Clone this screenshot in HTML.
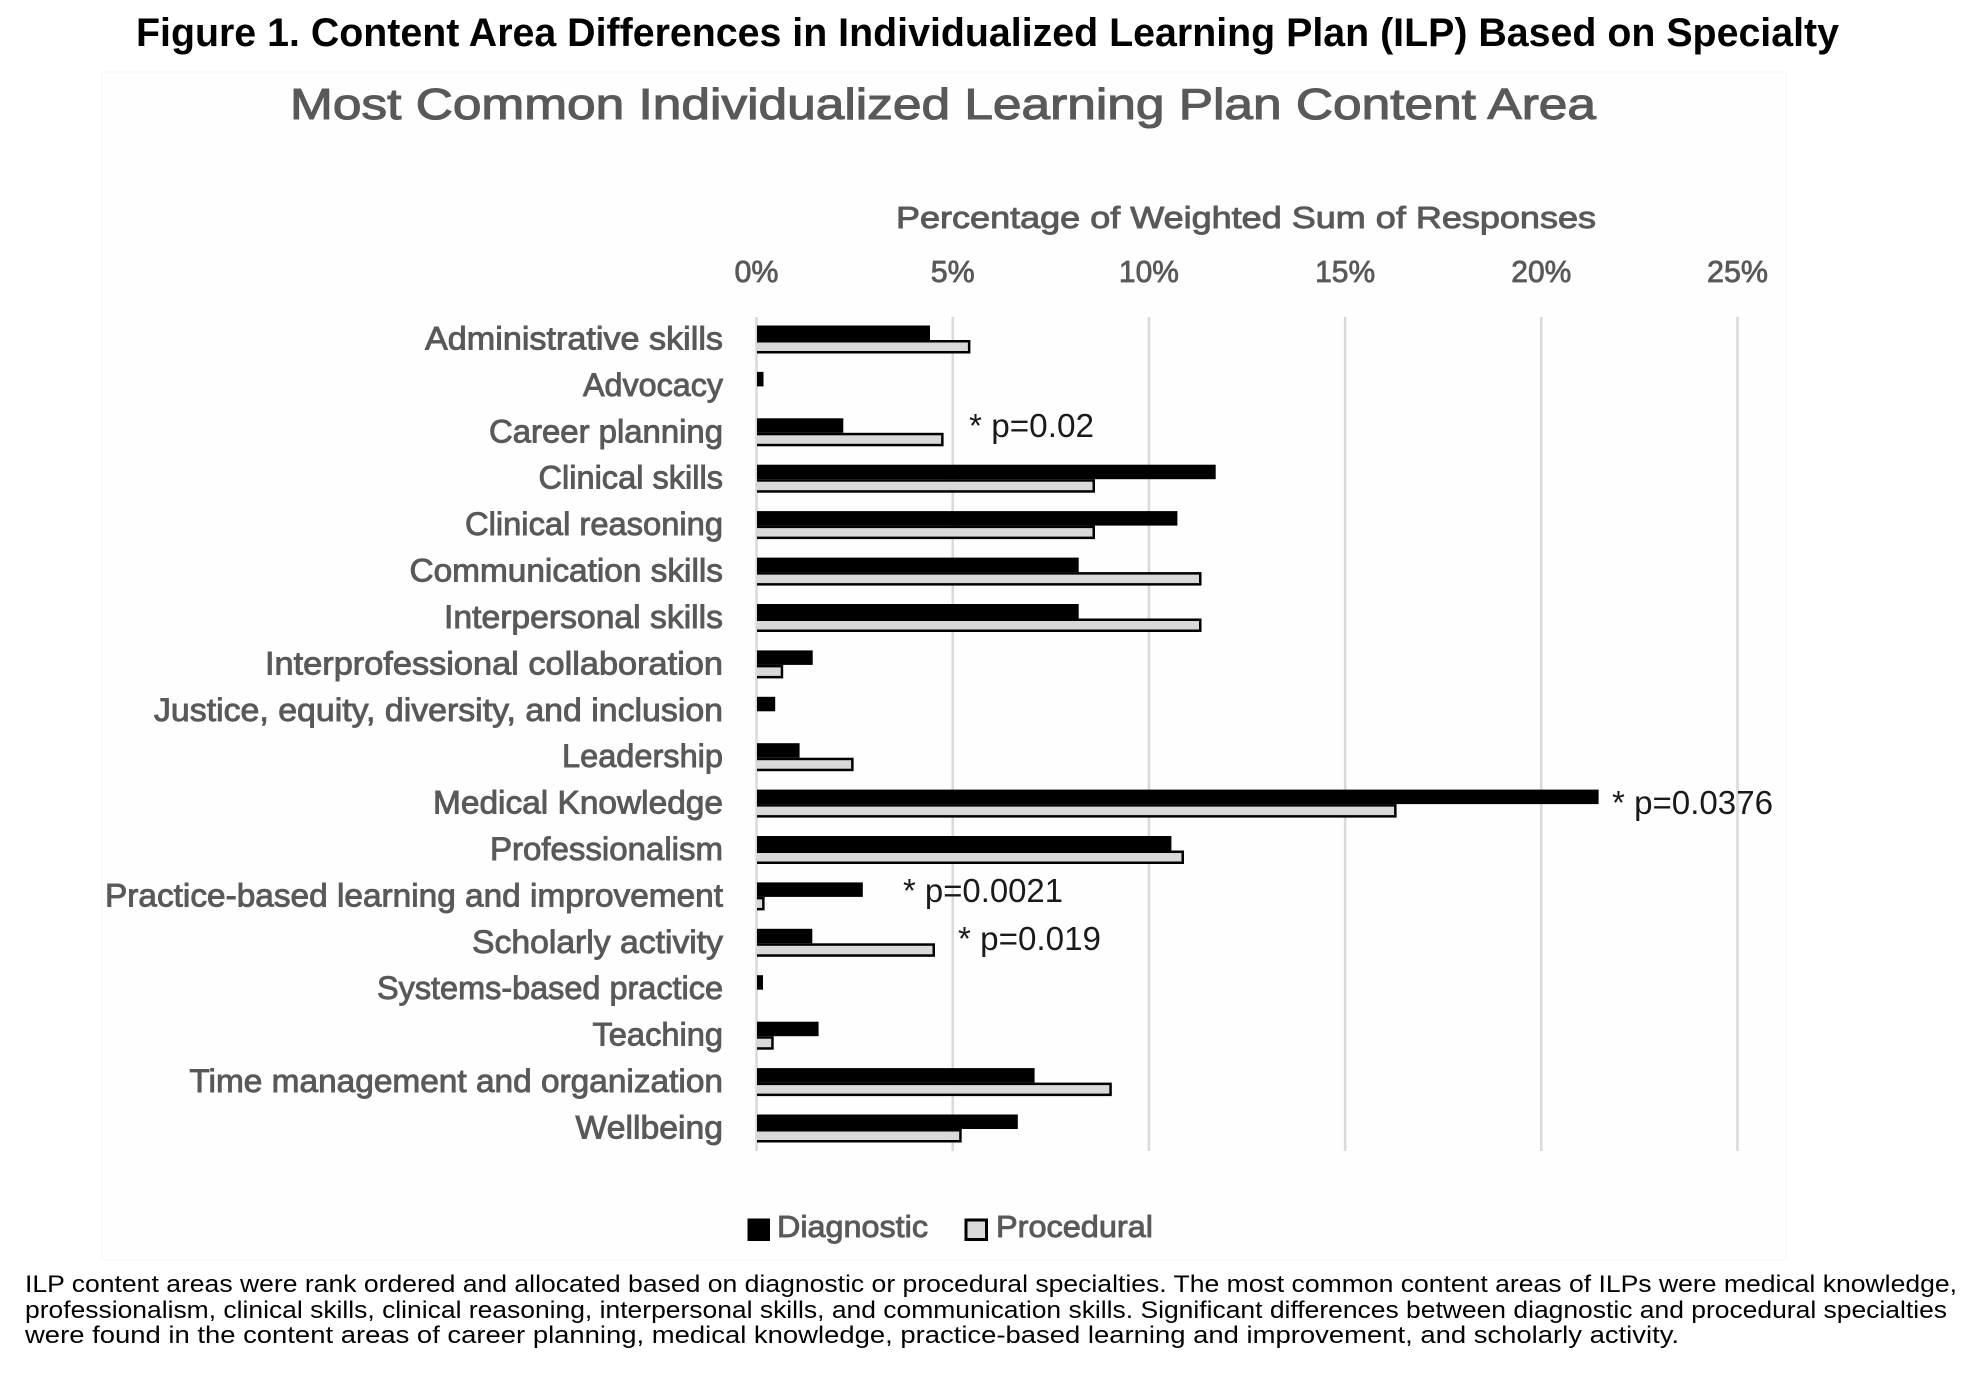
<!DOCTYPE html>
<html>
<head>
<meta charset="utf-8">
<style>
  html, body { margin:0; padding:0; background:#ffffff; }
  svg { display:block; }
  .ttl { font-family:"Liberation Sans", Arial, sans-serif; font-weight:bold; font-size:40px; fill:#000; }
  .ct  { font-family:"Liberation Sans", Arial, sans-serif; font-size:44px; fill:#595959; stroke:#595959; stroke-width:1.1; }
  .ax  { font-family:"Liberation Sans", Arial, sans-serif; font-size:31px; fill:#595959; stroke:#595959; stroke-width:0.9; }
  .tk  { font-family:"Liberation Sans", Arial, sans-serif; font-size:31px; fill:#595959; stroke:#595959; stroke-width:0.8; }
  .lb  { font-family:"Liberation Sans", Arial, sans-serif; font-size:32px; fill:#595959; stroke:#595959; stroke-width:0.9; }
  .an  { font-family:"Liberation Sans", Arial, sans-serif; font-size:33px; fill:#1a1a1a; }
  .lg  { font-family:"Liberation Sans", Arial, sans-serif; font-size:31px; fill:#595959; stroke:#595959; stroke-width:0.9; }
  .cap { font-family:"Liberation Sans", Arial, sans-serif; font-size:24px; fill:#000; }
</style>
</head>
<body>
<svg width="1961" height="1390" viewBox="0 0 1961 1390" xmlns="http://www.w3.org/2000/svg">
  <rect x="0" y="0" width="1961" height="1390" fill="#ffffff"/>
  <!-- faint chart panel -->
  <rect x="102" y="72" width="1684" height="1188" fill="#fefefe" stroke="#f9f9f9" stroke-width="1.5"/>

  <!-- Figure title -->
  <text class="ttl" x="136" y="46" textLength="1703" lengthAdjust="spacingAndGlyphs">Figure 1. Content Area Differences in Individualized Learning Plan (ILP) Based on Specialty</text>

  <!-- Chart title -->
  <text class="ct" x="290" y="119" textLength="1306" lengthAdjust="spacingAndGlyphs">Most Common Individualized Learning Plan Content Area</text>

  <!-- Axis title -->
  <text class="ax" x="896" y="228" textLength="700" lengthAdjust="spacingAndGlyphs">Percentage of Weighted Sum of Responses</text>

  <!-- Tick labels -->
  <g class="tk" text-anchor="middle">
    <text x="756.5" y="282" textLength="44" lengthAdjust="spacingAndGlyphs">0%</text>
    <text x="952.7" y="282" textLength="44" lengthAdjust="spacingAndGlyphs">5%</text>
    <text x="1148.9" y="282" textLength="60" lengthAdjust="spacingAndGlyphs">10%</text>
    <text x="1345.1" y="282" textLength="60" lengthAdjust="spacingAndGlyphs">15%</text>
    <text x="1541.3" y="282" textLength="60" lengthAdjust="spacingAndGlyphs">20%</text>
    <text x="1737.5" y="282" textLength="61" lengthAdjust="spacingAndGlyphs">25%</text>
  </g>

  <!-- Gridlines -->
  <g stroke="#d9d9d9" stroke-width="2.5">
    <line x1="756.5" y1="317" x2="756.5" y2="1151"/>
    <line x1="952.7" y1="317" x2="952.7" y2="1151"/>
    <line x1="1148.9" y1="317" x2="1148.9" y2="1151"/>
    <line x1="1345.1" y1="317" x2="1345.1" y2="1151"/>
    <line x1="1541.3" y1="317" x2="1541.3" y2="1151"/>
    <line x1="1737.5" y1="317" x2="1737.5" y2="1151"/>
  </g>

  <!-- Category labels -->
  <g class="lb" text-anchor="end">
    <text x="723" y="349.5" textLength="298" lengthAdjust="spacingAndGlyphs">Administrative skills</text>
    <text x="723" y="395.9" textLength="140" lengthAdjust="spacingAndGlyphs">Advocacy</text>
    <text x="723" y="442.3" textLength="234" lengthAdjust="spacingAndGlyphs">Career planning</text>
    <text x="723" y="488.7" textLength="184.5" lengthAdjust="spacingAndGlyphs">Clinical skills</text>
    <text x="723" y="535.1" textLength="258" lengthAdjust="spacingAndGlyphs">Clinical reasoning</text>
    <text x="723" y="581.6" textLength="313.5" lengthAdjust="spacingAndGlyphs">Communication skills</text>
    <text x="723" y="628" textLength="279" lengthAdjust="spacingAndGlyphs">Interpersonal skills</text>
    <text x="723" y="674.4" textLength="458" lengthAdjust="spacingAndGlyphs">Interprofessional collaboration</text>
    <text x="723" y="720.8" textLength="569" lengthAdjust="spacingAndGlyphs">Justice, equity, diversity, and inclusion</text>
    <text x="723" y="767.2" textLength="161" lengthAdjust="spacingAndGlyphs">Leadership</text>
    <text x="723" y="813.6" textLength="290" lengthAdjust="spacingAndGlyphs">Medical Knowledge</text>
    <text x="723" y="860" textLength="233" lengthAdjust="spacingAndGlyphs">Professionalism</text>
    <text x="723" y="906.4" textLength="618" lengthAdjust="spacingAndGlyphs">Practice-based learning and improvement</text>
    <text x="723" y="952.8" textLength="251" lengthAdjust="spacingAndGlyphs">Scholarly activity</text>
    <text x="723" y="999.2" textLength="346" lengthAdjust="spacingAndGlyphs">Systems-based practice</text>
    <text x="723" y="1045.7" textLength="130.5" lengthAdjust="spacingAndGlyphs">Teaching</text>
    <text x="723" y="1092.1" textLength="533.6" lengthAdjust="spacingAndGlyphs">Time management and organization</text>
    <text x="723" y="1138.5" textLength="147.5" lengthAdjust="spacingAndGlyphs">Wellbeing</text>
  </g>

  <!-- Diagnostic bars (black) -->
  <g fill="#000">
    <rect x="757" y="325.5" width="173" height="14.5"/>
    <rect x="757" y="371.9" width="6.5" height="14.5"/>
    <rect x="757" y="418.3" width="86.3" height="14.5"/>
    <rect x="757" y="464.7" width="458.7" height="14.5"/>
    <rect x="757" y="511.1" width="420.4" height="14.5"/>
    <rect x="757" y="557.6" width="321.7" height="14.5"/>
    <rect x="757" y="604" width="321.7" height="14.5"/>
    <rect x="757" y="650.4" width="55.7" height="14.5"/>
    <rect x="757" y="696.8" width="18.2" height="14.5"/>
    <rect x="757" y="743.2" width="42.6" height="14.5"/>
    <rect x="757" y="789.6" width="841.6" height="14.5"/>
    <rect x="757" y="836" width="414.4" height="14.5"/>
    <rect x="757" y="882.4" width="105.8" height="14.5"/>
    <rect x="757" y="928.8" width="55.3" height="14.5"/>
    <rect x="757" y="975.2" width="6" height="14.5"/>
    <rect x="757" y="1021.7" width="61.6" height="14.5"/>
    <rect x="757" y="1068.1" width="277.6" height="14.5"/>
    <rect x="757" y="1114.5" width="260.8" height="14.5"/>
  </g>

  <!-- Procedural bars (outer black outline) -->
  <g fill="#000">
    <rect x="757" y="340" width="213.4" height="13.5"/>
    <rect x="757" y="432.8" width="186.6" height="13.5"/>
    <rect x="757" y="479.2" width="338" height="13.5"/>
    <rect x="757" y="525.6" width="338" height="13.5"/>
    <rect x="757" y="572.1" width="444.5" height="13.5"/>
    <rect x="757" y="618.5" width="444.5" height="13.5"/>
    <rect x="757" y="664.9" width="26.2" height="13.5"/>
    <rect x="757" y="757.7" width="96.6" height="13.5"/>
    <rect x="757" y="804.1" width="639.6" height="13.5"/>
    <rect x="757" y="850.5" width="427" height="13.5"/>
    <rect x="757" y="896.9" width="7.6" height="13.5"/>
    <rect x="757" y="943.3" width="178" height="13.5"/>
    <rect x="757" y="1036.2" width="16.7" height="13.5"/>
    <rect x="757" y="1082.6" width="354.8" height="13.5"/>
    <rect x="757" y="1129" width="204.7" height="13.5"/>
  </g>
  <!-- Procedural bars (gray fill) -->
  <g fill="#d9d9d9">
    <rect x="757" y="342.5" width="210.9" height="8.5"/>
    <rect x="757" y="435.3" width="184.1" height="8.5"/>
    <rect x="757" y="481.7" width="335.5" height="8.5"/>
    <rect x="757" y="528.1" width="335.5" height="8.5"/>
    <rect x="757" y="574.6" width="442" height="8.5"/>
    <rect x="757" y="621" width="442" height="8.5"/>
    <rect x="757" y="667.4" width="23.7" height="8.5"/>
    <rect x="757" y="760.2" width="94.1" height="8.5"/>
    <rect x="757" y="806.6" width="637.1" height="8.5"/>
    <rect x="757" y="853" width="424.5" height="8.5"/>
    <rect x="757" y="899.4" width="5.1" height="8.5"/>
    <rect x="757" y="945.8" width="175.5" height="8.5"/>
    <rect x="757" y="1038.7" width="14.2" height="8.5"/>
    <rect x="757" y="1085.1" width="352.3" height="8.5"/>
    <rect x="757" y="1131.5" width="202.2" height="8.5"/>
  </g>

  <!-- Significance annotations -->
  <g class="an">
    <text x="969" y="437" textLength="125" lengthAdjust="spacingAndGlyphs">* p=0.02</text>
    <text x="1612" y="814" textLength="161" lengthAdjust="spacingAndGlyphs">* p=0.0376</text>
    <text x="903" y="902" textLength="160" lengthAdjust="spacingAndGlyphs">* p=0.0021</text>
    <text x="958" y="950" textLength="143" lengthAdjust="spacingAndGlyphs">* p=0.019</text>
  </g>

  <!-- Legend -->
  <rect x="747.5" y="1218.5" width="22.5" height="22.5" fill="#000"/>
  <text class="lg" x="777" y="1237" textLength="151" lengthAdjust="spacingAndGlyphs">Diagnostic</text>
  <rect x="964.5" y="1218.5" width="23.5" height="22.5" fill="#000"/>
  <rect x="967.5" y="1221.5" width="17.5" height="16.5" fill="#d9d9d9"/>
  <text class="lg" x="996" y="1237" textLength="157" lengthAdjust="spacingAndGlyphs">Procedural</text>

  <!-- Caption -->
  <text class="cap" x="25" y="1292" textLength="1932" lengthAdjust="spacingAndGlyphs">ILP content areas were rank ordered and allocated based on diagnostic or procedural specialties. The most common content areas of ILPs were medical knowledge,</text>
  <text class="cap" x="25" y="1318" textLength="1922" lengthAdjust="spacingAndGlyphs">professionalism, clinical skills, clinical reasoning, interpersonal skills, and communication skills. Significant differences between diagnostic and procedural specialties</text>
  <text class="cap" x="25" y="1343" textLength="1654" lengthAdjust="spacingAndGlyphs">were found in the content areas of career planning, medical knowledge, practice-based learning and improvement, and scholarly activity.</text>
</svg>
</body>
</html>
